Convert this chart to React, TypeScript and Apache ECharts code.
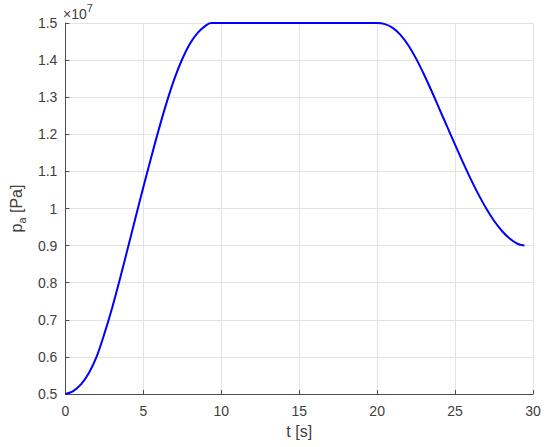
import React, { useEffect, useRef } from "react";
import * as echarts from "echarts";

// time [s]
const timeS: number[] = [
  0, 0.5, 1.0, 1.5, 2.0, 2.5, 3.0, 3.5, 4.0, 4.5, 5.0, 5.5, 6.0, 6.5, 7.0, 7.5, 8.0, 8.5, 9.0, 9.35,
  10.0, 15.0, 19.5,
  20.0, 20.5, 21.0, 21.5, 22.0, 22.5, 23.0, 23.5, 24.0, 24.5, 25.0, 25.5, 26.0, 26.5, 27.0, 27.5, 28.0, 28.5, 29.0, 29.45,
];
// pressure p_a [×10^7 Pa]
const pressure: number[] = [
  0.5, 0.508, 0.526, 0.556, 0.6, 0.662, 0.732, 0.81, 0.892, 0.975, 1.057, 1.137, 1.214, 1.286, 1.35, 1.403, 1.445, 1.474, 1.493, 1.5,
  1.5, 1.5, 1.5,
  1.5, 1.497, 1.487, 1.468, 1.44, 1.404, 1.362, 1.316, 1.268, 1.22, 1.172, 1.125, 1.08, 1.038, 1.0, 0.967, 0.94, 0.919, 0.905, 0.9,
];

const xTicks = { min: 0, max: 30, interval: 5 };
const yTicks = { min: 0.5, max: 1.5, interval: 0.1 };
const yExponent = "7";

export default function App() {
  const ref = useRef<HTMLDivElement>(null);
  useEffect(() => {
    if (!ref.current) return;
    const chart = echarts.init(ref.current, undefined, { renderer: "svg" });
    const font = "Liberation Sans, Arial, Helvetica, sans-serif";
    const textColor = "#404040";
    chart.setOption({
      animation: false,
      backgroundColor: "#ffffff",
      textStyle: { fontFamily: font },
      grid: { left: 63, right: 17, top: 23, bottom: 53, containLabel: false },
      xAxis: {
        type: "value",
        min: xTicks.min,
        max: xTicks.max,
        interval: xTicks.interval,
        name: "t [s]",
        nameLocation: "middle",
        nameGap: 29,
        nameTextStyle: { color: textColor, fontSize: 16, fontFamily: font },
        axisLine: { show: true, lineStyle: { color: "#4d4d4d", width: 1 } },
        axisTick: { show: true, inside: true, length: 4, lineStyle: { color: "#4d4d4d" } },
        axisLabel: { color: textColor, fontSize: 14, margin: 10, fontFamily: font },
        splitLine: { show: true, lineStyle: { color: "#e3e3e3", width: 1 } },
      },
      yAxis: {
        type: "value",
        min: yTicks.min,
        max: yTicks.max,
        interval: yTicks.interval,
        name: "{p|p}{s|a}{p| [Pa]}",
        nameLocation: "middle",
        nameGap: 34,
        nameRotate: 90,
        nameTextStyle: {
          color: textColor,
          fontFamily: font,
          rich: {
            p: { fontSize: 16, color: textColor, fontFamily: font, verticalAlign: "middle", lineHeight: 22 },
            s: { fontSize: 11, color: textColor, fontFamily: font, verticalAlign: "bottom", lineHeight: 11 },
          },
        },
        axisLine: { show: true, lineStyle: { color: "#4d4d4d", width: 1 } },
        axisTick: { show: true, inside: true, length: 4, lineStyle: { color: "#4d4d4d" } },
        axisLabel: {
          color: textColor,
          fontSize: 14,
          margin: 8,
          fontFamily: font,
          formatter: (v: number) => String(+v.toFixed(1)),
        },
        splitLine: { show: true, lineStyle: { color: "#e3e3e3", width: 1 } },
      },
      graphic: [
        {
          type: "text",
          left: 63,
          top: 2,
          style: {
            text: "{a|×10}{b|" + yExponent + "}",
            fill: textColor,
            fontFamily: font,
            rich: {
              a: { fontSize: 14, fill: textColor, fontFamily: font, verticalAlign: "bottom", lineHeight: 19 },
              b: { fontSize: 11, fill: textColor, fontFamily: font, verticalAlign: "top", lineHeight: 12 },
            },
          },
        },
      ],
      series: [
        {
          type: "line",
          data: timeS.map((t, i) => [t, pressure[i]]),
          showSymbol: false,
          smooth: 0.3,
          lineStyle: { color: "#0000ff", width: 2 },
          itemStyle: { color: "#0000ff" },
        },
      ],
    });
    return () => chart.dispose();
  }, []);
  return (
    <div
      ref={ref}
      style={{ position: "fixed", left: 0, top: 0, width: 550, height: 447, background: "#fff" }}
    />
  );
}
